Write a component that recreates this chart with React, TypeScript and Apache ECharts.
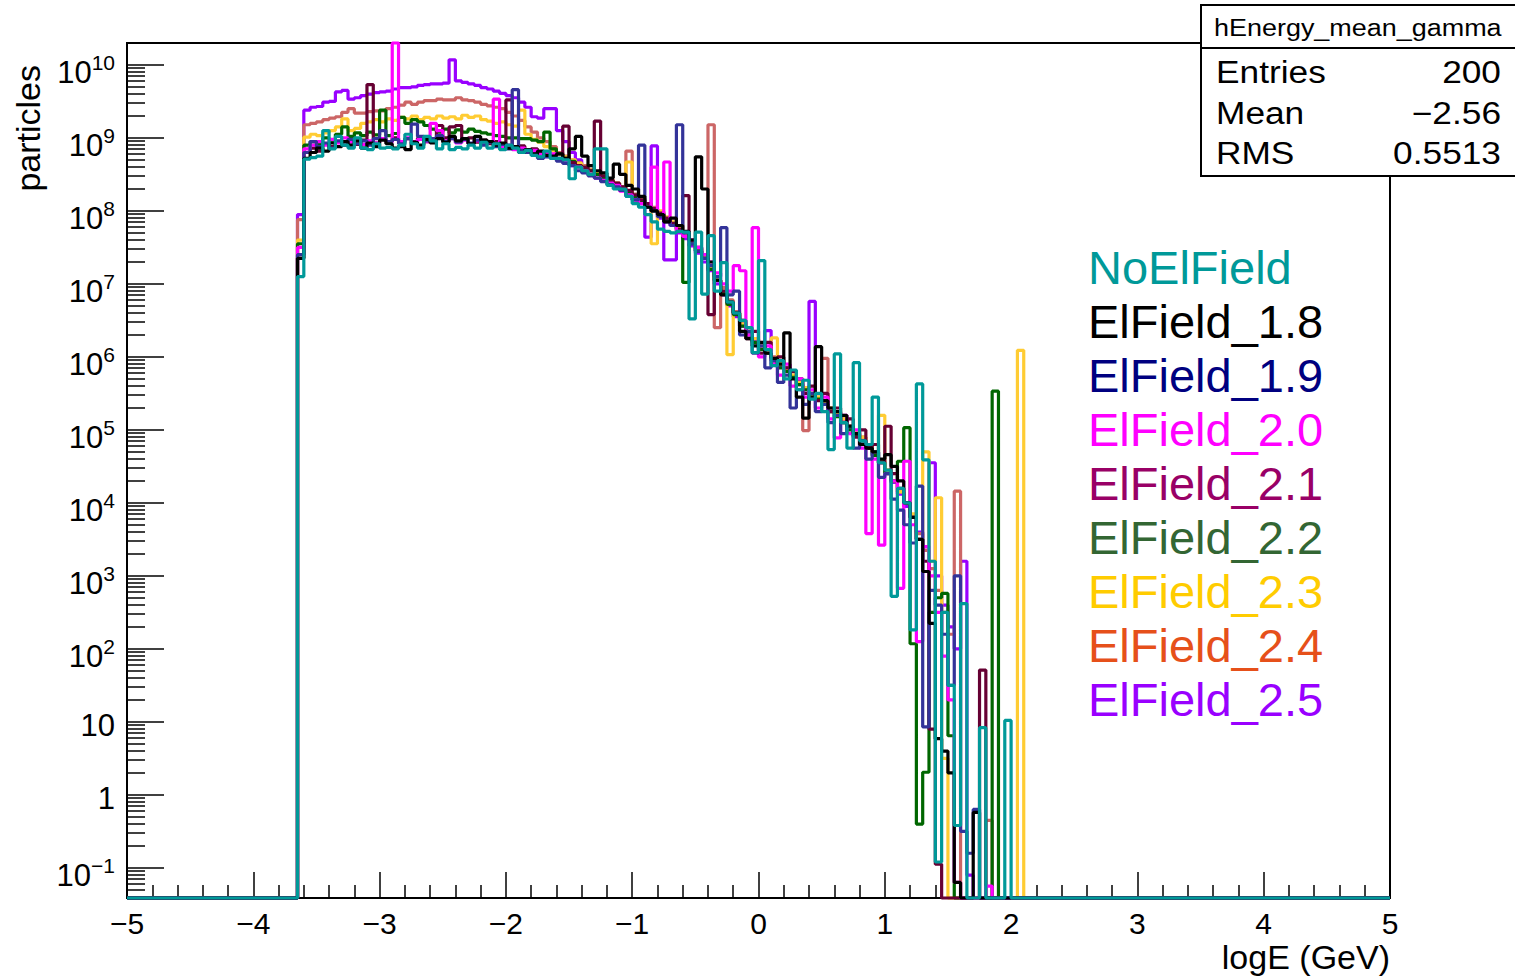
import React, { useEffect, useRef } from "react";
import * as echarts from "echarts";

// Histogram binning: 200 bins of width 0.05 over logE in [-5, 5]
const BIN_LO = -5;
const BIN_HI = 5;
const BIN_W = 0.05;
const FIRST_FILLED_EDGE = -3.65; // left edge of the first non-empty bin

// Y axis range in log10(particles)
const Y_MIN = -1.413;
const Y_MAX = 10.3;

const FONT = '"Liberation Sans", Arial, Helvetica, sans-serif';

// log10(particles) per bin, from FIRST_FILLED_EDGE onwards; null = empty bin
const noElField = [
  7.1, 8.71, 8.73, 8.75, 9.1, 8.85, 9.02, 8.9, 8.86, 9.0,
  8.86, 8.84, 8.92, 8.86, 8.87, 8.85, 8.9, 9.05, 8.92, 8.86,
  9.02, 8.96, 8.85, 8.92, 8.84, 8.87, 8.85, 8.9, 8.86, 8.94,
  8.86, 8.92, 8.84, 8.9, 8.86, 8.8, 8.83, 8.76, 8.74, 8.82,
  8.72, 8.72, 8.7, 8.44, 8.6, 8.55, 8.5, 8.85, 8.85, 8.35,
  8.3, 8.3, 8.2, 8.1, 8.05, 7.95, 7.85, 7.75, 7.72, 7.7,
  7.72, 7.71, 6.52, 7.71, 6.86, 7.66, 6.9, 7.29, 6.75, 6.6,
  6.5, 6.4, 6.06, 7.32, 6.1, 5.88, 5.95, 5.7, 5.82, 5.55,
  5.68, 5.42, 5.5, 5.25, 4.73, 6.04, 5.1, 4.75, 5.92, 4.85,
  4.8, 5.45, 4.55, 4.45, 2.72, 4.2, 4.0, 2.26, 5.63, 4.59,
  3.2, -0.92, 2.5, 1.5, -0.42, 2.62, null, null, 0.92, null,
  null, null, 1.02, null, null, null, null,
];

const elField18 = [
  7.35, 8.72, 8.8, 8.86, 8.82, 8.93, 8.88, 8.95, 8.9, 8.96,
  8.86, 8.93, 8.88, 8.97, 8.92, 8.86, 8.88, 8.84, 8.94, 8.9,
  8.98, 8.93, 8.99, 8.94, 9.02, 8.96, 8.99, 8.92, 9.02, 8.97,
  8.95, 8.9, 8.93, 8.86, 8.88, 8.8, 8.84, 8.78, 8.82, 8.76,
  8.75, 8.78, 8.72, 8.85, 9.02, 8.75, 8.62, 8.55, 8.52, 8.45,
  8.64, 8.5, 8.35, 8.3, 8.2, 8.05, 8.0, 7.95, 7.85, 7.9,
  7.8, 7.72, 7.6, 8.74, 8.3, 7.3, 7.05, 6.85, 6.75, 6.6,
  6.35, 6.25, 6.15, 6.2, 6.05, 5.98, 5.9, 6.33, 5.7, 5.45,
  5.16, 5.45, 6.14, 5.4, 5.3, 5.25, 5.2, 5.05, 4.95, 4.8,
  4.75, 4.7, 4.6, 4.66, 4.5, 4.3, 4.0, 3.8, 3.5, 3.06,
  2.35, 0.77, 0.6, 0.3, -1.2, null, null, -0.24, null, null,
  null, null, null, null, null, null, null,
];

const elField19 = [
  7.4, 8.8, 8.95, 8.88, 8.93, 8.86, 8.96, 8.9, 8.98, 8.92,
  8.96, 8.9, 8.99, 9.1, 8.95, 8.98, 8.92, 8.99, 9.19, 9.02,
  8.96, 8.99, 9.03, 8.95, 8.99, 8.94, 8.98, 8.93, 8.97, 8.9,
  8.94, 8.88, 8.91, 8.85, 9.66, 8.83, 8.8, 8.78, 8.72, 8.74,
  8.72, 8.68, 8.65, 8.62, 8.55, 8.52, 8.48, 8.45, 8.4, 8.36,
  8.33, 8.28, 8.2, 8.15, 8.9, 8.05, 8.0, 7.92, 7.85, 7.8,
  9.18, 7.7, 7.55, 7.45, 7.35, 7.25, 7.1, 7.77, 6.85, 6.9,
  6.3, 6.35, 6.05, 6.15, 5.85, 5.95, 5.65, 5.75, 5.3, 5.55,
  5.35, 5.5, 5.25, 5.35, 5.1, 5.2, 4.95, 5.05, 4.75, 4.85,
  4.6, 4.7, 4.35, 4.4, 4.05, 3.9, 3.7, 3.45, 4.23, 0.93,
  2.8, 2.6, 2.2, 1.5, 3.0, -0.5, -0.8, -0.2, null, null,
  null, null, null, null, null, null, null,
];

const elField20 = [
  7.5, 8.85, 8.9, 8.95, 8.9, 8.98, 8.93, 9.0, 8.94, 8.97,
  8.91, 8.96, 8.93, 8.99, 8.94, 10.3, 8.95, 9.0, 8.94, 8.98,
  8.95, 9.2, 9.1, 8.96, 8.99, 8.93, 8.97, 8.92, 8.96, 8.91,
  8.94, 9.53, 8.88, 8.9, 8.84, 8.86, 8.81, 8.83, 8.78, 8.8,
  8.78, 8.7, 8.68, 8.62, 8.6, 8.55, 8.5, 8.45, 8.42, 8.38,
  8.35, 8.27, 8.22, 8.15, 8.1, 8.05, 8.6, 7.95, 8.67, 7.8,
  7.72, 7.65, 7.6, 7.5, 7.4, 7.3, 7.15, 7.0, 6.9, 7.25,
  7.18, 6.3, 7.77, 6.0, 6.15, 5.9, 5.75, 5.9, 5.6, 5.7,
  5.45, 5.55, 5.3, 5.45, 5.15, 4.89, 5.2, 4.95, 5.0, 4.75,
  3.58, 4.6, 3.42, 4.4, 4.3, 2.83, 4.57, 3.7, 2.1, 3.4,
  3.0, 2.5, 1.9, 1.3, -1.2, null, null, null, null, -1.25,
  null, null, null, null, null, null, null,
];

const elField21 = [
  7.35, 8.8, 8.86, 8.82, 8.92, 8.88, 8.95, 8.9, 8.96, 8.91,
  8.97, 9.73, 8.93, 8.99, 8.95, 9.0, 8.94, 8.99, 8.95, 9.0,
  8.95, 8.99, 9.17, 9.0, 9.15, 9.17, 8.98, 9.0, 8.94, 8.97,
  8.92, 8.95, 8.89, 9.52, 8.86, 8.89, 8.83, 8.85, 8.78, 8.77,
  8.75, 8.72, 9.16, 8.66, 8.62, 8.6, 8.55, 9.23, 8.48, 8.42,
  8.38, 8.33, 8.28, 8.22, 8.15, 8.1, 8.03, 7.97, 7.9, 7.83,
  7.75, 8.21, 7.6, 7.5, 7.4, 6.58, 7.05, 6.9, 6.75, 6.6,
  6.5, 6.25, 6.35, 6.05, 6.2, 5.95, 6.0, 5.85, 5.8, 5.7,
  5.5, 5.6, 5.4, 5.5, 5.25, 5.3, 5.1, 5.15, 4.9, 5.0,
  4.75, 4.8, 4.55, 5.05, 4.4, 4.2, 4.0, 3.8, 3.5, 3.2,
  0.9, -0.95, null, null, null, null, null, null, 1.71, null,
  null, null, null, null, null, null, null,
];

const elField22 = [
  7.55, 8.9, 8.95, 8.92, 9.0, 8.97, 9.05, 9.15, 9.02, 9.07,
  9.03, 9.08, 9.04, 9.38, 9.03, 9.06, 9.28, 9.2, 9.25, 9.22,
  9.17, 9.12, 9.08, 9.12, 9.07, 9.11, 9.08, 9.12, 9.09, 9.07,
  9.05, 9.03, 9.02, 9.0, 9.0, 8.99, 8.99, 8.97, 8.95, 9.08,
  8.85, 8.78, 8.72, 8.68, 8.62, 8.58, 8.55, 8.5, 8.46, 8.4,
  8.35, 8.3, 8.25, 8.2, 8.12, 8.07, 8.0, 7.95, 7.88, 7.82,
  7.72, 7.02, 7.55, 7.45, 7.35, 7.2, 7.05, 6.88, 6.72, 6.58,
  6.42, 6.3, 6.2, 6.1, 6.05, 5.95, 5.85, 5.8, 5.72, 5.62,
  5.55, 5.45, 5.42, 5.35, 5.25, 5.18, 5.1, 5.0, 4.92, 4.85,
  4.75, 4.65, 4.55, 4.4, 4.3, 4.57, 5.03, 2.07, -0.4, 0.31,
  2.5, 2.7, 2.76, 0.81, null, null, null, null, null, null,
  5.53, null, null, null, null, null, null,
];

const elField23 = [
  7.6, 9.01, 9.05, 9.03, 9.07, 9.1, 9.15, 9.26, 9.1, 9.13,
  9.2, 9.22, 9.25, 9.22, 9.26, 9.24, 9.28, 9.26, 9.3, 9.25,
  9.28, 9.26, 9.3, 9.27, 9.29, 9.26, 9.31, 9.28, 9.3, 9.25,
  9.23, 9.2, 9.22, 9.18, 9.16, 9.38, 9.05, 8.98, 8.94, 8.88,
  8.82, 8.78, 8.74, 8.7, 8.65, 8.6, 8.56, 8.52, 8.47, 8.42,
  8.38, 8.32, 8.67, 8.22, 8.15, 8.1, 7.55, 8.0, 7.92, 7.85,
  7.78, 7.7, 7.6, 7.48, 7.36, 7.22, 7.05, 6.9, 6.03, 6.6,
  6.45, 6.35, 6.25, 6.15, 6.1, 6.26, 5.9, 5.82, 5.75, 5.65,
  5.58, 5.5, 5.45, 5.38, 5.3, 5.22, 5.15, 5.05, 4.97, 4.9,
  4.8, 4.7, 5.2, 4.45, 4.3, 4.15, 4.0, 3.85, 3.5, 4.7,
  3.2, 4.07, 0.5, null, null, null, null, null, null, null,
  null, null, null, null, 6.09, null, null,
];

const elField24 = [
  7.88, 9.18, 9.2, 9.22, 9.25, 9.27, 9.29, 9.35, 9.4, 9.34,
  9.34, 9.36, 9.37, 9.37, 9.4, 9.42, 9.45, 9.49, 9.46, 9.49,
  9.51, 9.51, 9.53, 9.52, 9.52, 9.55, 9.52, 9.51, 9.49, 9.46,
  9.44, 9.42, 9.4, 9.35, 9.3, 9.24, 9.15, 9.08, 9.0, 8.95,
  8.88, 8.8, 8.75, 8.7, 8.66, 8.62, 8.57, 8.52, 8.47, 8.43,
  8.38, 8.33, 8.82, 8.23, 8.17, 8.1, 8.05, 7.98, 7.9, 7.83,
  7.75, 7.68, 7.58, 7.48, 7.38, 9.18, 6.4, 6.95, 6.78, 6.62,
  6.47, 6.35, 6.25, 6.15, 6.08, 6.0, 5.92, 5.85, 5.75, 5.68,
  4.99, 5.5, 5.45, 5.98, 5.3, 5.22, 5.15, 5.06, 4.98, 4.9,
  4.8, 4.7, 4.58, 4.45, 4.3, 4.15, 4.0, 3.82, 3.58, 3.35,
  3.1, 2.8, 2.5, 2.2, 4.16, null, null, null, null, -0.35,
  null, null, null, null, null, null, null,
];

const elField25 = [
  7.95, 9.38, 9.42, 9.43, 9.49, 9.5, 9.63, 9.65, 9.53, 9.55,
  9.58, 9.6, 9.62, 9.63, 9.64, 9.67, 9.69, 9.69, 9.7, 9.72,
  9.73, 9.74, 9.74, 9.75, 10.07, 9.78, 9.76, 9.74, 9.72, 9.69,
  9.67, 9.64, 9.61, 9.58, 9.55, 9.49, 9.42, 9.29, 9.27, 9.4,
  9.4, 9.1, 8.95, 8.8, 8.7, 8.62, 8.55, 8.5, 8.45, 8.4,
  8.35, 8.28, 8.22, 8.15, 8.1, 7.64, 8.89, 7.9, 7.33, 7.33,
  7.7, 7.62, 7.52, 7.42, 7.3, 7.18, 7.0, 6.85, 6.7, 6.55,
  6.42, 6.3, 6.22, 6.12, 6.36, 5.95, 5.88, 5.8, 5.72, 5.62,
  5.55, 6.76, 5.42, 5.35, 5.28, 5.2, 5.12, 5.03, 4.95, 4.86,
  4.77, 4.68, 4.55, 4.42, 4.28, 4.12, 3.95, 3.8, 3.6, 3.4,
  4.55, 3.0, 2.6, 2.3, 2.0, 3.2, -1.1, null, null, null,
  null, null, null, null, null, null, null,
];

const seriesNames = [
  "NoElField", "ElField_1.8", "ElField_1.9", "ElField_2.0", "ElField_2.1",
  "ElField_2.2", "ElField_2.3", "ElField_2.4", "ElField_2.5",
];
const seriesValues = [
  noElField, elField18, elField19, elField20, elField21,
  elField22, elField23, elField24, elField25,
];
const lineColors = [
  "#009999", "#000000", "#333399", "#ff00ff", "#660033",
  "#006600", "#ffcc33", "#cc6666", "#9900ff",
];
const legendColors = [
  "#009999", "#000000", "#000080", "#ff00ff", "#990066",
  "#336633", "#ffcc00", "#e6501a", "#9900ff",
];

const yMajorTicks = [-1, 0, 1, 2, 3, 4, 5, 6, 7, 8, 9, 10];

const statsRows = [
  ["Entries", "200"],
  ["Mean", "\u22122.56"],
  ["RMS", "0.5513"],
];

// minor ticks of a decade axis: 2..9 times each power of ten
function minorTicks(): number[] {
  const out: number[] = [];
  for (let n = -2; n <= 10; n++) {
    for (let m = 2; m <= 9; m++) {
      const v = n + Math.log10(m);
      if (v > Y_MIN && v < Y_MAX) out.push(v);
    }
  }
  return out;
}

// turn per-bin values into step-line points (left edges + closing right edge)
function histPoints(vals: (number | null)[]): [number, number][] {
  const nBins = Math.round((BIN_HI - BIN_LO) / BIN_W);
  const offset = Math.round((FIRST_FILLED_EDGE - BIN_LO) / BIN_W);
  const pts: [number, number][] = [];
  for (let i = 0; i < nBins; i++) {
    const j = i - offset;
    const v = j >= 0 && j < vals.length ? vals[j] : null;
    pts.push([+(BIN_LO + i * BIN_W).toFixed(2), v == null ? Y_MIN : v]);
  }
  pts.push([BIN_HI, pts[pts.length - 1][1]]);
  return pts;
}

function fmtMinus(n: number): string {
  return n < 0 ? "\u2212" + String(-n) : String(n);
}

function yLabel(value: number): string {
  const n = Math.round(value);
  if (n === 0) return "{p|1}";
  if (n === 1) return "{p|10}";
  return `{b|10}{s|${fmtMinus(n)}}`;
}

export default function App() {
  const ref = useRef<HTMLDivElement>(null);

  useEffect(() => {
    if (!ref.current) return;
    const chart = echarts.init(ref.current, undefined, { renderer: "svg" });

    const order = [8, 7, 6, 5, 4, 3, 2, 1, 0]; // NoElField drawn last, on top
    const series = order.map((i) => ({
      name: seriesNames[i],
      type: "line" as const,
      step: "end" as const,
      data: histPoints(seriesValues[i]),
      showSymbol: false,
      symbol: "none",
      clip: false,
      color: lineColors[i],
      lineStyle: { color: lineColors[i], width: 3.2 },
      emphasis: { disabled: true },
      z: 3,
    }));

    const statsGraphics: any[] = [
      {
        type: "rect",
        shape: { x: 1201, y: 5, width: 330, height: 171 },
        style: { fill: "#ffffff", stroke: "#000000", lineWidth: 2 },
        z: 100,
      },
      {
        type: "line",
        shape: { x1: 1201, y1: 48, x2: 1515, y2: 48 },
        style: { stroke: "#000000", lineWidth: 2 },
        z: 101,
      },
      {
        type: "text",
        x: 1214,
        y: 27,
        scaleX: 1.1,
        style: {
          text: "hEnergy_mean_gamma",
          fontSize: 24.5,
          fontFamily: FONT,
          fill: "#000",
          align: "left",
          verticalAlign: "middle",
        },
        z: 101,
      },
    ];
    const rowY = [72, 113, 153];
    statsRows.forEach(([k, v], r) => {
      statsGraphics.push({
        type: "text",
        x: 1216,
        y: rowY[r],
        scaleX: 1.12,
        style: { text: k, fontSize: 31.5, fontFamily: FONT, fill: "#000", align: "left", verticalAlign: "middle" },
        z: 101,
      });
      statsGraphics.push({
        type: "text",
        x: 1501,
        y: rowY[r],
        scaleX: 1.12,
        style: { text: v, fontSize: 31.5, fontFamily: FONT, fill: "#000", align: "right", verticalAlign: "middle" },
        z: 101,
      });
    });

    chart.setOption({
      animation: false,
      backgroundColor: "#ffffff",
      textStyle: { fontFamily: FONT },
      grid: {
        left: 127,
        right: 125,
        top: 43,
        bottom: 79,
        show: true,
        borderColor: "#000000",
        borderWidth: 2,
        backgroundColor: "transparent",
      },
      xAxis: {
        type: "value",
        min: BIN_LO,
        max: BIN_HI,
        interval: 1,
        axisLine: { show: true, onZero: false, lineStyle: { color: "#000", width: 2 } },
        axisTick: { show: true, inside: true, length: 26, lineStyle: { color: "#000", width: 1.5 } },
        minorTick: { show: true, splitNumber: 5, length: 13, lineStyle: { color: "#000", width: 1.5 } },
        axisLabel: {
          show: true,
          margin: 10,
          fontSize: 30,
          color: "#000",
          fontFamily: FONT,
          formatter: (v: number) => fmtMinus(Math.round(v)),
        },
        splitLine: { show: false },
      },
      yAxis: [
        {
          type: "value",
          min: Y_MIN,
          max: Y_MAX,
          position: "left",
          axisLine: { show: true, onZero: false, lineStyle: { color: "#000", width: 2 } },
          axisTick: {
            show: true,
            inside: true,
            length: 37,
            customValues: yMajorTicks,
            lineStyle: { color: "#000", width: 1.5 },
          },
          axisLabel: {
            show: true,
            margin: 12,
            customValues: yMajorTicks,
            formatter: yLabel,
            rich: {
              p: { fontSize: 31, fontFamily: FONT, color: "#000", padding: [7, 0, 0, 0] },
              b: { fontSize: 31, fontFamily: FONT, color: "#000", padding: [15, 0, 0, 0] },
              s: { fontSize: 21, fontFamily: FONT, color: "#000", padding: [0, 0, 5, 0] },
            },
          },
          splitLine: { show: false },
        },
        {
          type: "value",
          min: Y_MIN,
          max: Y_MAX,
          position: "left",
          axisLine: { show: false, onZero: false },
          axisTick: {
            show: true,
            inside: true,
            length: 18,
            customValues: minorTicks(),
            lineStyle: { color: "#000", width: 1.5 },
          },
          axisLabel: { show: false },
          splitLine: { show: false },
        },
      ],
      legend: {
        orient: "vertical",
        left: 1082,
        top: 240,
        padding: 0,
        itemGap: 0,
        itemWidth: 0,
        itemHeight: 0,
        selectedMode: false,
        textStyle: { fontSize: 47, lineHeight: 54, fontFamily: FONT },
        data: seriesNames.map((n, i) => ({
          name: n,
          textStyle: { color: legendColors[i] },
        })),
      },
      graphic: [
        {
          type: "text",
          x: 28,
          y: 65,
          rotation: Math.PI / 2,
          style: {
            text: "particles",
            fontSize: 34,
            fontFamily: FONT,
            fill: "#000",
            align: "right",
            verticalAlign: "middle",
          },
        },
        {
          type: "text",
          x: 1390,
          y: 957,
          style: {
            text: "logE (GeV)",
            fontSize: 34,
            fontFamily: FONT,
            fill: "#000",
            align: "right",
            verticalAlign: "middle",
          },
        },
        ...statsGraphics,
      ],
      series,
    });

    return () => chart.dispose();
  }, []);

  return (
    <div
      ref={ref}
      style={{ position: "fixed", left: 0, top: 0, width: 1515, height: 977, background: "#fff" }}
    />
  );
}
